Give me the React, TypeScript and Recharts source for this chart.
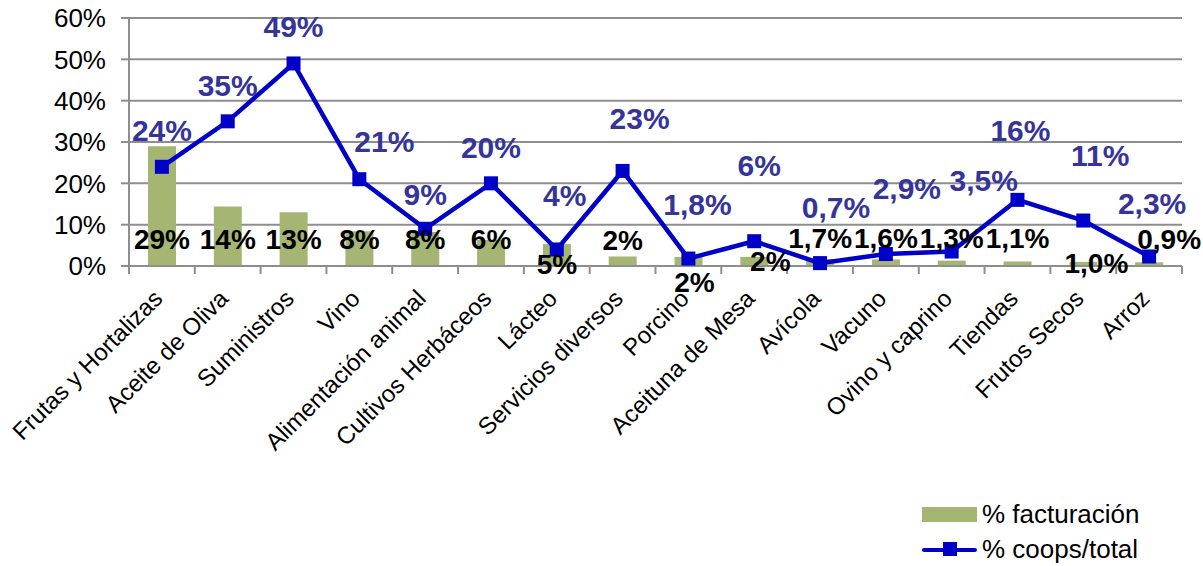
import React from "react";
import { Bar, CartesianGrid, ComposedChart, LabelList, Line, XAxis, YAxis } from "recharts";

document.body.style.margin = "0";

// ---- data ----
const categories = [
  "Frutas y Hortalizas",
  "Aceite de Oliva",
  "Suministros",
  "Vino",
  "Alimentación animal",
  "Cultivos Herbáceos",
  "Lácteo",
  "Servicios diversos",
  "Porcino",
  "Aceituna de Mesa",
  "Avícola",
  "Vacuno",
  "Ovino y caprino",
  "Tiendas",
  "Frutos Secos",
  "Arroz",
];
const facturacion = [29, 14.4, 13, 8.4, 8.2, 6.3, 5.3, 2.3, 2.2, 2.2, 1.7, 1.6, 1.3, 1.1, 1.0, 0.9];
const facturacionLabels = ["29%", "14%", "13%", "8%", "8%", "6%", "5%", "2%", "2%", "2%", "1,7%", "1,6%", "1,3%", "1,1%", "1,0%", "0,9%"];
const coopsTotal = [24, 35, 49, 21, 9, 20, 4, 23, 1.8, 6, 0.7, 2.9, 3.5, 16, 11, 2.3];
const yTicks = [0, 10, 20, 30, 40, 50, 60];

const data = categories.map((name, i) => ({
  name,
  fact: facturacion[i],
  coops: coopsTotal[i],
}));

// ---- layout / style ----
const W = 1203;
const H = 566;
const PLOT_LEFT = 129;
const PLOT_RIGHT = 1182;
const PLOT_TOP = 18;
const PLOT_BOTTOM = 266;
const HALF_BAND = (PLOT_RIGHT - PLOT_LEFT) / categories.length / 2;
const FONT = "'Liberation Sans', Arial, sans-serif";
const GRID = "#8e8e8e";
const BAR = "#a5b572";
const LINE = "#0000c8";
const LINE_LABEL = "#353599";

// hand-placed label offsets, as in the original sheet
const lineLabelDx = [0, 0, 0, 25, 0, 0, 8, 17, 9, 5, 16, 21, 32, 3, 17, 3];
const lineLabelDy = [-36, -36, -37, -38, -34, -36, -54, -52, -54, -76, -56, -66, -71, -69, -65, -53];
const barLabelDx = [0, 0, 0, 0, 0, 0, 0, 0, 6, 16, 0, 0, 0, 0, 13, 20];
const barLabelDy = [-27, -27, -27, -27, -27, -27, -2, -26, 16, -5, -28, -28, -28, -28, -3, -27];

const fmt = (v: number) => `${String(v).replace(".", ",")}%`;

const CategoryTick = (props: any) => {
  const { x, payload, index } = props;
  return (
    <g>
      <line x1={x - HALF_BAND} x2={x - HALF_BAND} y1={PLOT_BOTTOM} y2={PLOT_BOTTOM + 8} stroke={GRID} strokeWidth={2} />
      {index === categories.length - 1 && (
        <line x1={x + HALF_BAND} x2={x + HALF_BAND} y1={PLOT_BOTTOM} y2={PLOT_BOTTOM + 8} stroke={GRID} strokeWidth={2} />
      )}
      <text
        transform={`translate(${x + 2},${PLOT_BOTTOM + 34}) rotate(-45)`}
        textAnchor="end"
        fontSize={24}
        fontFamily={FONT}
        fill="#000"
      >
        {payload.value}
      </text>
    </g>
  );
};

const SquareDot = (props: any) => {
  const { cx, cy, index } = props;
  return <rect key={`dot-${index}`} x={cx - 7} y={cy - 7} width={14} height={14} fill={LINE} />;
};

const LineLabel = (props: any) => {
  const { x, y, index, value } = props;
  return (
    <text
      x={x + lineLabelDx[index]}
      y={y + lineLabelDy[index]}
      textAnchor="middle"
      dominantBaseline="central"
      fontSize={30}
      fontWeight="bold"
      fontFamily={FONT}
      fill={LINE_LABEL}
    >
      {fmt(value)}
    </text>
  );
};

const BarLabel = (props: any) => {
  const { x, y, width, height, index } = props;
  return (
    <text
      x={x + width / 2 + barLabelDx[index]}
      y={y + height + barLabelDy[index]}
      textAnchor="middle"
      dominantBaseline="central"
      fontSize={28}
      fontWeight="bold"
      fontFamily={FONT}
      fill="#000"
    >
      {facturacionLabels[index]}
    </text>
  );
};

export default function App() {
  return (
    <div style={{ position: "relative", width: W, height: H, background: "#fff", fontFamily: FONT }}>
      <ComposedChart
        width={W}
        height={H}
        data={data}
        margin={{ top: PLOT_TOP, right: W - PLOT_RIGHT, left: 0, bottom: 0 }}
      >
        <CartesianGrid vertical={false} stroke={GRID} strokeWidth={2} />
        <XAxis
          dataKey="name"
          interval={0}
          height={H - PLOT_BOTTOM}
          tick={<CategoryTick />}
          tickLine={false}
          axisLine={{ stroke: GRID, strokeWidth: 2 }}
        />
        <YAxis
          width={PLOT_LEFT}
          domain={[0, 60]}
          ticks={yTicks}
          tickFormatter={(v: number) => `${v}%`}
          tick={{ fill: "#000", fontSize: 26, fontFamily: FONT }}
          tickSize={8}
          tickMargin={15}
          tickLine={{ stroke: GRID, strokeWidth: 2 }}
          axisLine={{ stroke: GRID, strokeWidth: 2 }}
        />
        <Bar dataKey="fact" fill={BAR} barSize={28} isAnimationActive={false}>
          <LabelList dataKey="fact" content={<BarLabel />} />
        </Bar>
        <Line
          dataKey="coops"
          type="linear"
          stroke={LINE}
          strokeWidth={4.5}
          dot={<SquareDot />}
          activeDot={false}
          isAnimationActive={false}
        >
          <LabelList dataKey="coops" content={<LineLabel />} />
        </Line>
      </ComposedChart>

      <div style={{ position: "absolute", left: 922, top: 497, fontSize: 26, lineHeight: "35px", color: "#000" }}>
        <div style={{ display: "flex", alignItems: "center" }}>
          <span style={{ display: "inline-block", width: 55, height: 15, background: BAR, marginRight: 5 }} />
          % facturación
        </div>
        <div style={{ display: "flex", alignItems: "center" }}>
          <span style={{ position: "relative", display: "inline-block", width: 55, height: 15, marginRight: 5 }}>
            <span style={{ position: "absolute", left: 0, right: 0, top: 5.5, height: 4.5, background: LINE, borderRadius: 2 }} />
            <span style={{ position: "absolute", left: 21, top: 0, width: 14, height: 14, background: LINE }} />
          </span>
          % coops/total
        </div>
      </div>
    </div>
  );
}
